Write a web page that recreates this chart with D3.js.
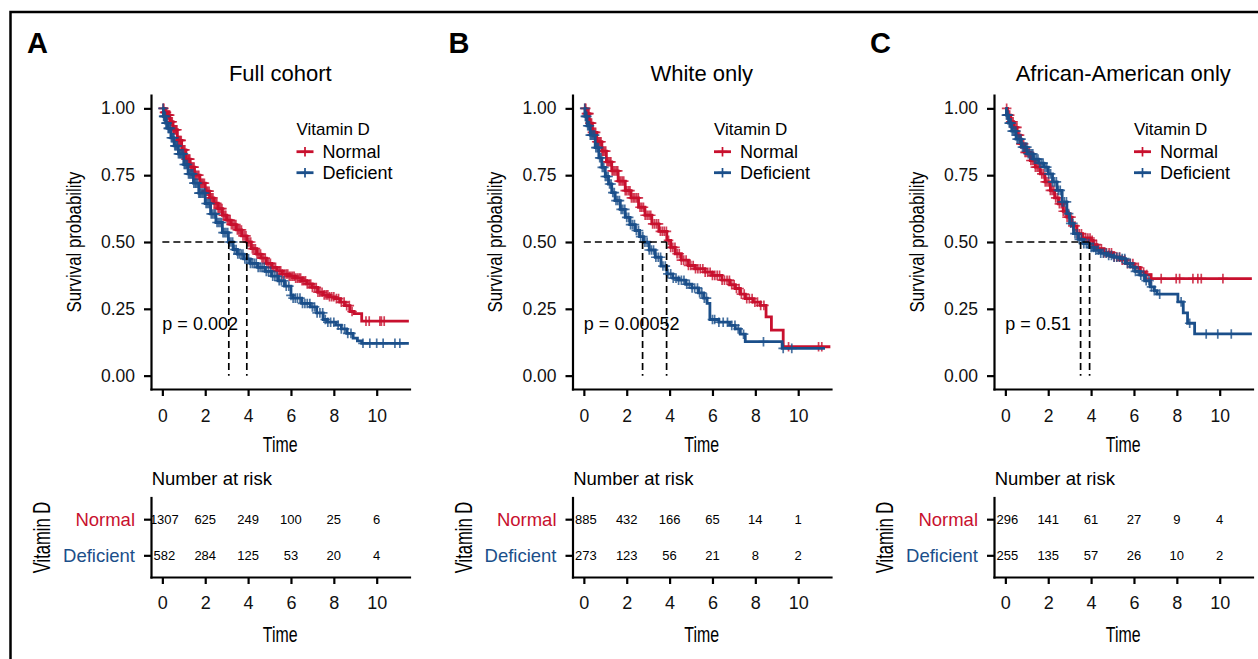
<!DOCTYPE html>
<html>
<head>
<meta charset="utf-8">
<script src="https://cdn.jsdelivr.net/npm/d3@7"></script>
<style>
  body { margin: 0; background: #fff; }
  svg { display: block; }
</style>
</head>
<body>
<svg id="chart" width="1258" height="659"></svg>
<script>
// ---- data ----
const timeTicks = [0, 2, 4, 6, 8, 10];
const survTicks = [0, 0.25, 0.5, 0.75, 1];
const groups = ["Normal", "Deficient"];
const panelLetters = ["A", "B", "C"];
const panelTitles = ["Full cohort", "White only", "African-American only"];
const pValues = ["p = 0.002", "p = 0.00052", "p = 0.51"];

// Kaplan-Meier steps [time, survival]
const fullNormal = [[0,1],[0.1,0.985],[0.2,0.975],[0.35,0.95],[0.5,0.92],[0.7,0.88],[0.9,0.845],[1.1,0.81],[1.3,0.78],[1.5,0.75],[1.75,0.72],[2.0,0.69],[2.2,0.665],[2.4,0.645],[2.6,0.625],[2.8,0.6],[3.0,0.582],[3.2,0.565],[3.45,0.545],[3.7,0.523],[3.94,0.5],[4.15,0.475],[4.4,0.455],[4.6,0.44],[4.85,0.42],[5.1,0.405],[5.35,0.392],[5.6,0.38],[5.9,0.372],[6.2,0.365],[6.5,0.355],[6.75,0.343],[7.0,0.33],[7.25,0.312],[7.5,0.302],[7.8,0.295],[8.05,0.288],[8.3,0.275],[8.5,0.262],[8.75,0.24],[8.95,0.232],[9.3,0.204],[11.5,0.204]];
const fullDeficient = [[0,1],[0.05,0.97],[0.15,0.945],[0.25,0.925],[0.4,0.89],[0.55,0.86],[0.75,0.83],[1.0,0.79],[1.2,0.755],[1.45,0.72],[1.7,0.683],[2.0,0.644],[2.25,0.605],[2.5,0.573],[2.8,0.535],[3.08,0.5],[3.3,0.472],[3.5,0.455],[3.8,0.437],[4.1,0.42],[4.45,0.405],[4.8,0.39],[5.1,0.372],[5.4,0.355],[5.7,0.335],[6.0,0.3],[6.1,0.29],[6.5,0.27],[6.9,0.257],[7.2,0.235],[7.5,0.21],[7.7,0.2],[8.1,0.189],[8.35,0.175],[8.6,0.158],[8.9,0.14],[9.1,0.13],[9.3,0.121],[11.5,0.121]];
const whiteNormal = [[0,1],[0.1,0.98],[0.25,0.945],[0.4,0.91],[0.6,0.875],[0.84,0.84],[1.05,0.8],[1.3,0.766],[1.6,0.728],[1.93,0.692],[2.2,0.665],[2.55,0.63],[2.85,0.6],[3.17,0.568],[3.5,0.54],[3.87,0.506],[4.05,0.48],[4.26,0.456],[4.55,0.432],[4.88,0.412],[5.2,0.4],[5.66,0.387],[6.0,0.375],[6.44,0.357],[6.8,0.34],[7.06,0.326],[7.3,0.305],[7.53,0.288],[7.9,0.275],[8.23,0.263],[8.5,0.22],[8.75,0.17],[9.3,0.108],[11.5,0.108]];
const whiteDeficient = [[0,1],[0.05,0.97],[0.15,0.935],[0.3,0.9],[0.53,0.853],[0.7,0.815],[0.84,0.779],[1.0,0.745],[1.15,0.717],[1.3,0.685],[1.46,0.655],[1.7,0.622],[1.93,0.592],[2.15,0.565],[2.39,0.543],[2.6,0.52],[2.78,0.499],[3.05,0.47],[3.33,0.443],[3.6,0.41],[3.87,0.381],[4.15,0.365],[4.42,0.357],[4.75,0.342],[5.04,0.328],[5.35,0.31],[5.59,0.29],[5.75,0.27],[5.88,0.21],[6.3,0.2],[6.8,0.188],[7.06,0.175],[7.3,0.155],[7.53,0.127],[9.25,0.102],[11.25,0.102]];
const aaNormal = [[0,1],[0.1,0.975],[0.25,0.95],[0.39,0.929],[0.55,0.9],[0.7,0.867],[0.9,0.835],[1.17,0.805],[1.4,0.78],[1.63,0.755],[1.85,0.725],[2.1,0.693],[2.3,0.665],[2.48,0.643],[2.7,0.615],[2.87,0.593],[3.1,0.56],[3.34,0.531],[3.6,0.515],[3.96,0.506],[4.1,0.49],[4.27,0.475],[4.6,0.46],[5.05,0.444],[5.35,0.432],[5.67,0.419],[6.0,0.405],[6.29,0.388],[6.5,0.378],[6.8,0.363],[11.5,0.363]];
const aaDeficient = [[0,1],[0.05,0.975],[0.15,0.945],[0.3,0.915],[0.5,0.885],[0.75,0.855],[1.01,0.83],[1.3,0.81],[1.55,0.795],[1.79,0.78],[2.0,0.755],[2.2,0.725],[2.41,0.693],[2.65,0.65],[2.87,0.606],[3.0,0.57],[3.18,0.531],[3.4,0.51],[3.65,0.494],[3.9,0.48],[4.12,0.469],[4.45,0.458],[4.74,0.45],[5.05,0.443],[5.36,0.438],[5.6,0.42],[5.83,0.407],[6.05,0.39],[6.29,0.376],[6.5,0.355],[6.76,0.332],[6.95,0.318],[7.07,0.305],[8.05,0.276],[8.3,0.235],[8.5,0.196],[8.83,0.156],[11.5,0.156]];

// censoring times
const fullNormalCensor = [0.04,0.07,0.1,0.13,0.16,0.19,0.22,0.26,0.3,0.34,0.38,0.42,0.46,0.5,0.53,0.57,0.6,0.64,0.68,0.72,0.76,0.8,0.84,0.88,0.92,0.96,1.0,1.05,1.1,1.15,1.2,1.24,1.28,1.33,1.38,1.43,1.48,1.53,1.58,1.64,1.7,1.75,1.8,1.85,1.9,1.96,2.02,2.07,2.12,2.18,2.25,2.3,2.36,2.42,2.48,2.54,2.6,2.66,2.72,2.78,2.84,2.9,2.96,3.03,3.1,3.16,3.22,3.29,3.36,3.43,3.5,3.56,3.62,3.69,3.76,3.83,3.9,3.97,4.04,4.12,4.2,4.27,4.34,4.42,4.5,4.58,4.65,4.72,4.8,4.88,4.96,5.04,5.12,5.2,5.28,5.36,5.45,5.52,5.6,5.7,5.78,5.85,5.92,6.0,6.08,6.15,6.22,6.3,6.38,6.45,6.52,6.6,6.68,6.76,6.85,6.92,7.0,7.1,7.18,7.26,7.35,7.45,7.55,7.64,7.72,7.8,7.9,8.0,8.12,8.22,8.35,8.48,8.6,8.72,8.85,9.5,9.65,10.15,10.22,10.35];
const fullDeficientCensor = [0.03,0.06,0.08,0.11,0.14,0.17,0.2,0.23,0.27,0.3,0.34,0.38,0.42,0.46,0.5,0.54,0.58,0.62,0.66,0.7,0.75,0.8,0.84,0.88,0.93,0.98,1.02,1.07,1.12,1.17,1.22,1.27,1.32,1.37,1.42,1.47,1.53,1.58,1.64,1.7,1.75,1.8,1.86,1.92,1.98,2.04,2.1,2.16,2.22,2.28,2.35,2.42,2.48,2.55,2.62,2.69,2.76,2.83,2.9,2.97,3.05,3.12,3.2,3.28,3.36,3.44,3.52,3.6,3.68,3.76,3.85,3.94,4.02,4.11,4.2,4.29,4.38,4.47,4.56,4.65,4.75,4.85,4.95,5.05,5.15,5.25,5.35,5.45,5.55,5.66,5.78,5.9,6.0,6.1,6.2,6.3,6.42,6.54,6.65,6.76,6.88,7.0,7.1,7.22,7.35,7.48,7.6,7.72,7.85,8.0,8.2,8.35,8.5,8.65,8.8,9.36,9.68,10.0,10.3,10.85,11.08];
const whiteNormalCensor = [0.05,0.09,0.12,0.16,0.2,0.24,0.28,0.32,0.36,0.4,0.45,0.5,0.55,0.6,0.65,0.7,0.75,0.8,0.85,0.9,0.96,1.02,1.08,1.14,1.2,1.26,1.32,1.38,1.45,1.52,1.58,1.65,1.72,1.79,1.86,1.93,2.0,2.08,2.15,2.22,2.3,2.38,2.46,2.54,2.62,2.7,2.78,2.86,2.95,3.04,3.12,3.21,3.3,3.39,3.48,3.57,3.66,3.75,3.85,3.95,4.05,4.15,4.25,4.35,4.45,4.55,4.66,4.77,4.88,4.99,5.1,5.21,5.32,5.43,5.55,5.66,5.78,5.89,6.0,6.11,6.22,6.33,6.45,6.56,6.68,6.79,6.9,7.01,7.12,7.24,7.35,7.48,7.6,7.72,7.85,7.98,8.1,8.25,8.4,9.55,10.95,11.1];
const whiteDeficientCensor = [0.04,0.07,0.1,0.14,0.18,0.22,0.26,0.3,0.35,0.4,0.45,0.5,0.56,0.62,0.68,0.74,0.8,0.86,0.93,1.0,1.06,1.13,1.2,1.27,1.35,1.42,1.5,1.58,1.66,1.74,1.82,1.91,2.0,2.09,2.18,2.27,2.36,2.45,2.55,2.65,2.75,2.85,2.95,3.05,3.15,3.25,3.36,3.47,3.58,3.69,3.8,3.92,4.05,4.17,4.3,4.42,4.55,4.67,4.8,4.92,5.05,5.17,5.3,5.4,5.5,5.62,5.72,6.0,6.1,6.3,6.5,6.7,6.9,7.05,7.2,7.45,8.38,9.3,9.7];
const aaNormalCensor = [0.06,0.1,0.15,0.2,0.25,0.3,0.36,0.42,0.48,0.54,0.6,0.66,0.72,0.78,0.85,0.92,0.98,1.05,1.12,1.19,1.26,1.33,1.4,1.48,1.55,1.62,1.7,1.78,1.86,1.94,2.02,2.1,2.18,2.26,2.35,2.44,2.52,2.61,2.7,2.79,2.88,2.97,3.06,3.15,3.25,3.35,3.45,3.55,3.65,3.75,3.85,3.95,4.05,4.15,4.25,4.36,4.48,4.6,4.72,4.84,4.95,5.08,5.2,5.33,5.45,5.58,5.7,5.83,5.95,6.08,6.2,6.32,6.45,6.6,6.8,7.27,7.97,8.13,8.75,8.98,9.14,10.15];
const aaDeficientCensor = [0.05,0.09,0.13,0.18,0.22,0.27,0.32,0.38,0.43,0.49,0.55,0.61,0.67,0.73,0.8,0.86,0.93,1.0,1.07,1.14,1.21,1.28,1.36,1.44,1.52,1.6,1.68,1.76,1.85,1.93,2.02,2.11,2.2,2.29,2.38,2.47,2.56,2.65,2.75,2.85,2.95,3.05,3.15,3.25,3.35,3.45,3.55,3.66,3.78,3.89,4.0,4.11,4.22,4.33,4.45,4.57,4.7,4.82,4.95,5.07,5.2,5.32,5.45,5.57,5.7,5.82,5.95,6.07,6.2,6.32,6.45,6.57,6.7,6.82,6.95,7.2,8.2,8.6,9.37,9.91,10.54];

// median survival [Normal, Deficient]
const fullMedian = [3.94, 3.10];
const whiteMedian = [3.86, 2.74];
const aaMedian = [3.93, 3.51];

// number at risk at timeTicks
const riskFullNormal = [1307, 625, 249, 100, 25, 6];
const riskFullDeficient = [582, 284, 125, 53, 20, 4];
const riskWhiteNormal = [885, 432, 166, 65, 14, 1];
const riskWhiteDeficient = [273, 123, 56, 21, 8, 2];
const riskAANormal = [296, 141, 61, 27, 9, 4];
const riskAADeficient = [255, 135, 57, 26, 10, 2];

const colors = { Normal: "#C8102E", Deficient: "#1B4F8A" };
const FONT = "'Liberation Sans', Arial, Helvetica, sans-serif";

const panels = [
    { curves: [fullNormal, fullDeficient], censors: [fullNormalCensor, fullDeficientCensor], median: fullMedian, risk: [riskFullNormal, riskFullDeficient], legendDx: 145.5 },
    { curves: [whiteNormal, whiteDeficient], censors: [whiteNormalCensor, whiteDeficientCensor], median: whiteMedian, risk: [riskWhiteNormal, riskWhiteDeficient], legendDx: 141.5 },
    { curves: [aaNormal, aaDeficient], censors: [aaNormalCensor, aaDeficientCensor], median: aaMedian, risk: [riskAANormal, riskAADeficient], legendDx: 140 }
];

const svg = d3.select("#chart").attr("font-family", FONT);

// outer frame
svg.append("rect")
    .attr("x", 10.5).attr("y", 12)
    .attr("width", 1300).attr("height", 700)
    .attr("fill", "none").attr("stroke", "#000").attr("stroke-width", 2.5);

function styleAxis(sel, fs) {
    sel.attr("font-family", FONT).attr("font-size", fs);
    sel.select(".domain").attr("stroke", "#000").attr("stroke-width", 2.2).attr("stroke-linecap", "square");
    sel.selectAll(".tick line").attr("stroke", "#000").attr("stroke-width", 2.2);
    sel.selectAll(".tick text").attr("fill", "#111");
}

function survAt(curve, t) {
    const i = d3.bisector(d => d[0]).right(curve, t) - 1;
    return curve[Math.max(0, i)][1];
}

function plusPath(cx, cy, r) {
    return `M${cx - r},${cy}H${cx + r}M${cx},${cy - r}V${cy + r}`;
}

panels.forEach((p, i) => {
    const left = 151 + i * 421.5;
    const width = 258.5;
    const x = d3.scaleLinear().domain([-0.53, 11.53]).range([left, left + width]);
    const y = d3.scaleLinear().domain([-0.05, 1.05]).range([389, 95]);
    const g = svg.append("g");

    // panel letter and title
    g.append("text")
        .attr("x", left - 124).attr("y", 53)
        .attr("font-size", 29).attr("font-weight", "bold")
        .text(panelLetters[i]);

    g.append("text")
        .attr("x", left + width / 2).attr("y", 81)
        .attr("text-anchor", "middle").attr("font-size", 22)
        .text(panelTitles[i]);

    // survival curves
    const line = d3.line().x(d => x(d[0])).y(d => y(d[1])).curve(d3.curveStepAfter);
    groups.forEach((grp, k) => {
        g.append("path")
            .datum(p.curves[k])
            .attr("d", line)
            .attr("fill", "none")
            .attr("stroke", colors[grp])
            .attr("stroke-width", 2.8);

        g.append("g").selectAll("path")
            .data(p.censors[k])
            .enter().append("path")
            .attr("d", t => plusPath(x(t), y(survAt(p.curves[k], t)), 4.8))
            .attr("stroke", colors[grp])
            .attr("stroke-width", 1.7)
            .attr("opacity", 0.8);
    });

    // median lines
    const maxMed = d3.max(p.median);
    g.append("line")
        .attr("x1", x(0)).attr("x2", x(maxMed))
        .attr("y1", y(0.5)).attr("y2", y(0.5))
        .attr("stroke", "#000").attr("stroke-width", 1.7).attr("stroke-dasharray", "7,4");
    g.selectAll(".med")
        .data(p.median)
        .enter().append("line")
        .attr("x1", d => x(d)).attr("x2", d => x(d))
        .attr("y1", y(0.5)).attr("y2", y(0))
        .attr("stroke", "#000").attr("stroke-width", 1.7).attr("stroke-dasharray", "7,4");

    // p value
    g.append("text")
        .attr("x", x(0)).attr("y", y(0.17))
        .attr("font-size", 18)
        .text(pValues[i]);

    // axes
    g.append("g")
        .attr("transform", "translate(" + left + ",0)")
        .call(d3.axisLeft(y).tickValues(survTicks).tickFormat(d3.format(".2f")).tickSize(7).tickPadding(9).tickSizeOuter(0))
        .call(s => styleAxis(s, 17.5));
    g.append("g")
        .attr("transform", "translate(0,389)")
        .call(d3.axisBottom(x).tickValues(timeTicks).tickSize(7).tickPadding(14).tickSizeOuter(0))
        .call(s => styleAxis(s, 17.5));

    g.append("text")
        .attr("transform", `translate(${left - 70.5},242) rotate(-90) scale(0.82,1)`)
        .attr("text-anchor", "middle").attr("font-size", 20.5)
        .text("Survival probability");
    g.append("text")
        .attr("transform", `translate(${left + width / 2},452) scale(0.74,1)`)
        .attr("text-anchor", "middle").attr("font-size", 21.5)
        .text("Time");

    // legend
    const lx = left + p.legendDx;
    g.append("text").attr("x", lx).attr("y", 135).attr("font-size", 17).text("Vitamin D");
    groups.forEach((grp, k) => {
        const ly = 151.7 + k * 21;
        g.append("line")
            .attr("x1", lx).attr("x2", lx + 17)
            .attr("y1", ly).attr("y2", ly)
            .attr("stroke", colors[grp]).attr("stroke-width", 2.8);
        g.append("path")
            .attr("d", plusPath(lx + 8.5, ly, 4.8))
            .attr("stroke", colors[grp]).attr("stroke-width", 1.7);
        g.append("text")
            .attr("x", lx + 26).attr("y", ly + 6)
            .attr("font-size", 18)
            .text(grp);
    });

    // number at risk table
    const yr = d3.scalePoint().domain(groups).range([497.5, 577]).padding(0.6);

    g.append("text")
        .attr("x", left + 0.7).attr("y", 485)
        .attr("font-size", 18.5)
        .text("Number at risk");

    groups.forEach((grp, k) => {
        g.append("g").selectAll("text")
            .data(p.risk[k])
            .enter().append("text")
            .attr("x", (d, j) => x(timeTicks[j]) + (j === 0 ? 2 : 0))
            .attr("y", yr(grp))
            .attr("dy", "0.36em")
            .attr("text-anchor", "middle")
            .attr("font-size", 13)
            .text(d => d);
    });

    const ay = g.append("g")
        .attr("transform", "translate(" + left + ",0)")
        .call(d3.axisLeft(yr).tickSize(7).tickPadding(9).tickSizeOuter(0))
        .call(s => styleAxis(s, 18.5));
    ay.selectAll(".tick text").attr("fill", d => colors[d]);

    g.append("g")
        .attr("transform", "translate(0,577)")
        .call(d3.axisBottom(x).tickValues(timeTicks).tickSize(7).tickPadding(12.7).tickSizeOuter(0))
        .call(s => styleAxis(s, 18));

    g.append("text")
        .attr("transform", `translate(${left - 101},537.5) rotate(-90) scale(0.72,1)`)
        .attr("text-anchor", "middle").attr("font-size", 23)
        .text("Vitamin D");
    g.append("text")
        .attr("transform", `translate(${left + width / 2},642) scale(0.74,1)`)
        .attr("text-anchor", "middle").attr("font-size", 21.5)
        .text("Time");
});
</script>
</body>
</html>
